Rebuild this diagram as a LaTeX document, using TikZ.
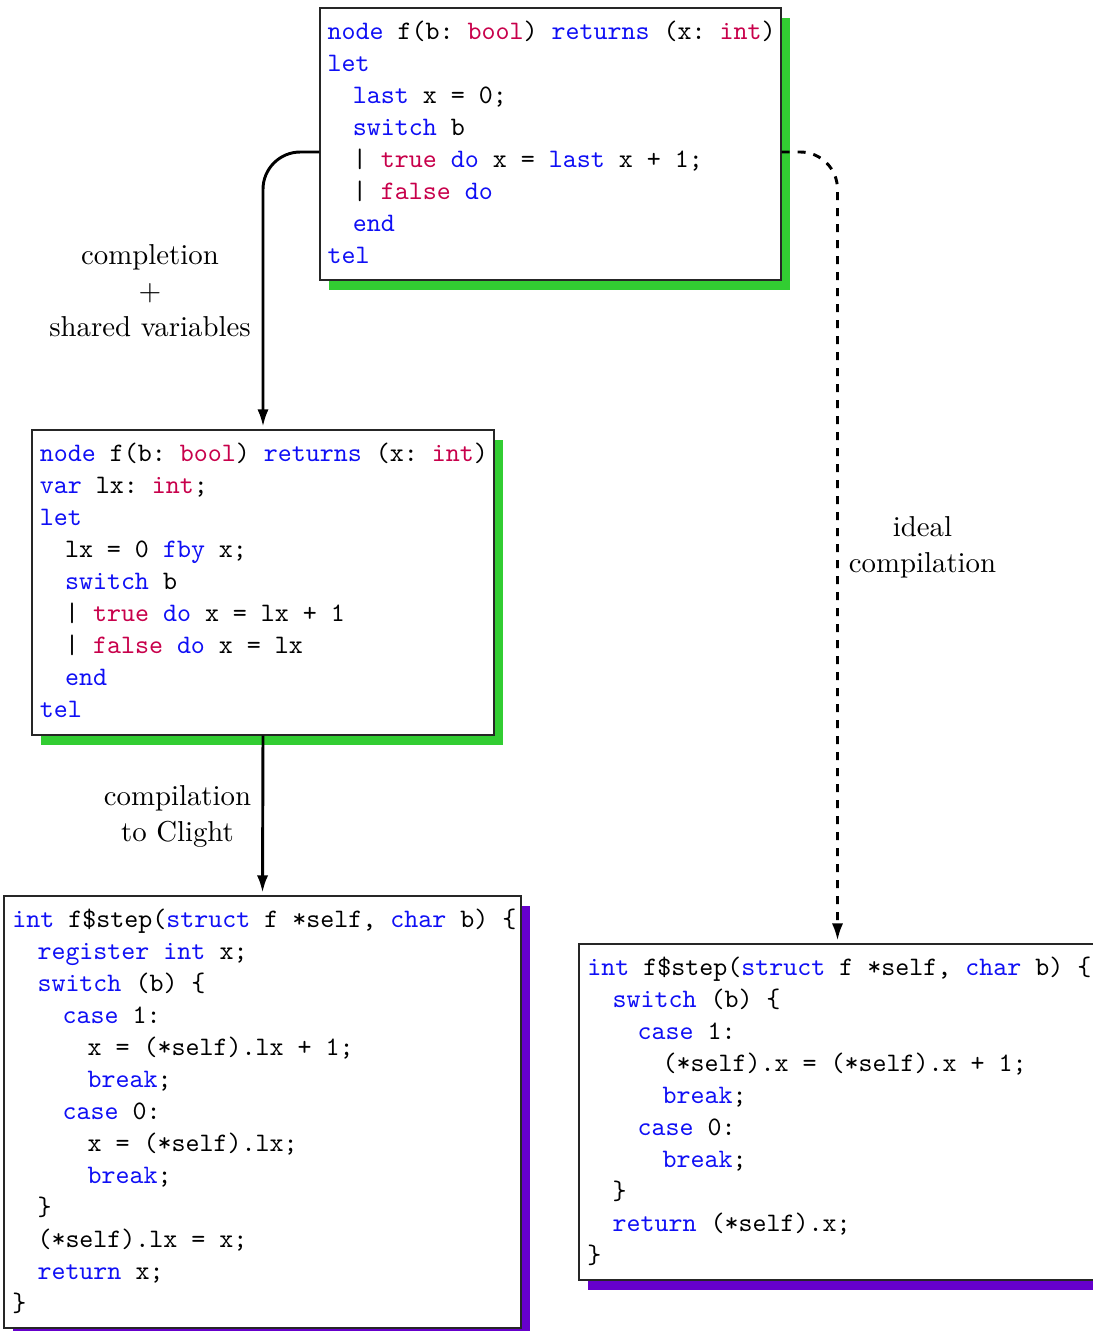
\documentclass[tikz,border=0pt]{standalone}
\usepackage{fontspec}
\usetikzlibrary{arrows.meta,fit,shadows}
\definecolor{kwblue}{RGB}{15,15,245}
\definecolor{tyred}{RGB}{200,0,75}
\definecolor{lgreen}{RGB}{50,205,50}
\definecolor{cpurple}{RGB}{102,0,204}
\newcommand\kw[1]{\textcolor{kwblue}{#1}}
\newcommand\ty[1]{\textcolor{tyred}{#1}}
\newcommand\ind{\hspace*{9.4pt}}
\begin{document}
\begin{tikzpicture}[x=0.375pt, y=-0.375pt,
  frame/.style={draw=black!85, line width=0.45pt, fill=white, inner sep=0pt},
  gshadow/.style={drop shadow={shadow xshift=3.5pt, shadow yshift=-3.8pt, fill=lgreen, opacity=1}},
  pshadow/.style={drop shadow={shadow xshift=3.5pt, shadow yshift=-3.8pt, fill=cpurple, opacity=1}},
  code/.style={anchor=north west, inner sep=0pt, align=left, font=\fontsize{10}{12}\selectfont\ttfamily\frenchspacing},
  lbl/.style={anchor=north, inner sep=0pt, align=center, font=\fontsize{10.8}{13.5}\selectfont},
  arr/.style={line width=1.1pt, rounded corners=14pt, shorten >=1pt, -{Latex[length=6.5pt,width=4.2pt]}},
]
\useasboundingbox (0,0) rectangle (1093,1331);

% frames
\node[frame, gshadow, fit={(320,8) (781,280)}] (top) {};
\node[frame, gshadow, fit={(32,430) (494,735)}] (mid) {};
\node[frame, pshadow, fit={(4,896) (521,1328)}] (bl) {};
\node[frame, pshadow, fit={(579,944) (1096,1280)}] (br) {};

% code
\node[code] (topcode) at ([shift={(7.8,9.4)}]top.north west) {\strut\kw{node} f(b: \ty{bool}) \kw{returns} (x: \ty{int})\\
\kw{let}\\
\ind\kw{last} x = 0;\\
\ind\kw{switch} b\\
\ind| \ty{true} \kw{do} x = \kw{last} x + 1;\\
\ind| \ty{false} \kw{do}\\
\ind\kw{end}\\
\kw{tel}};

\node[code] (midcode) at ([shift={(8,9.4)}]mid.north west) {\strut\kw{node} f(b: \ty{bool}) \kw{returns} (x: \ty{int})\\
\kw{var} lx: \ty{int};\\
\kw{let}\\
\ind lx = 0 \kw{fby} x;\\
\ind\kw{switch} b\\
\ind| \ty{true} \kw{do} x = lx + 1\\
\ind| \ty{false} \kw{do} x = lx\\
\ind\kw{end}\\
\kw{tel}};

\node[code] (blcode) at ([shift={(8.5,9.4)}]bl.north west) {\strut\kw{int} f\$step(\kw{struct} f *self, \kw{char} b) \{\\
\ind\kw{register} \kw{int} x;\\
\ind\kw{switch} (b) \{\\
\ind\ind\kw{case} 1:\\
\ind\ind\ind x = (*self).lx + 1;\\
\ind\ind\ind\kw{break};\\
\ind\ind\kw{case} 0:\\
\ind\ind\ind x = (*self).lx;\\
\ind\ind\ind\kw{break};\\
\ind\}\\
\ind(*self).lx = x;\\
\ind\kw{return} x;\\
\}};

\node[code] (brcode) at ([shift={(8.5,9.4)}]br.north west) {\strut\kw{int} f\$step(\kw{struct} f *self, \kw{char} b) \{\\
\ind\kw{switch} (b) \{\\
\ind\ind\kw{case} 1:\\
\ind\ind\ind(*self).x = (*self).x + 1;\\
\ind\ind\ind\kw{break};\\
\ind\ind\kw{case} 0:\\
\ind\ind\ind\kw{break};\\
\ind\}\\
\ind\kw{return} (*self).x;\\
\}};

% labels
\node[lbl] (lab1) at (150,238.5) {\strut completion\\$+$\\shared variables};
\node[lbl] (lab2) at (177.5,779.5) {\strut compilation\\to Clight};
\node[lbl] (lab3) at (922.5,510.5) {\strut ideal\\compilation};

% connectors
\draw[arr] ([yshift=-3pt]top.west) -| (mid.north);
\draw[arr] (mid.south) -- (bl.north);
\draw[arr, dash pattern=on 3pt off 3pt] ([yshift=-3pt]top.east) -| (br.north);
\end{tikzpicture}
\end{document}
